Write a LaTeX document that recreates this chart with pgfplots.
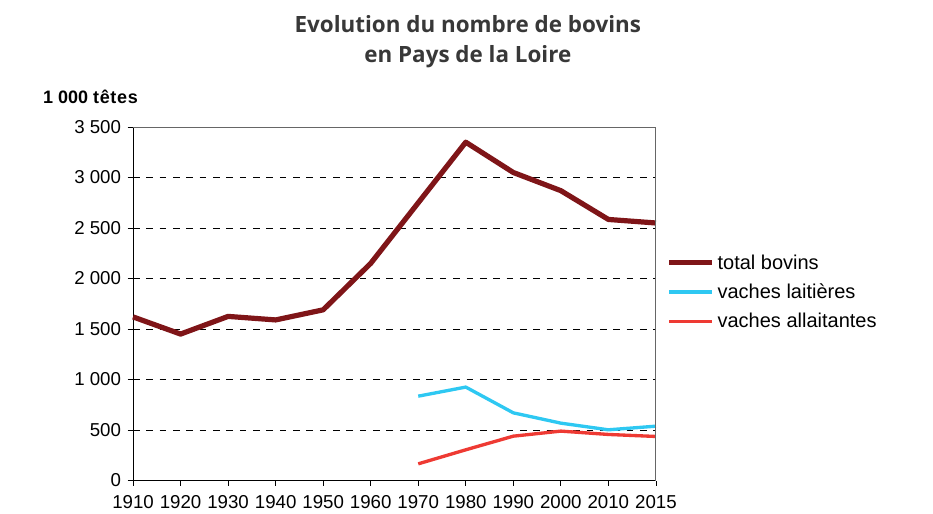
\documentclass[border=0pt]{standalone}
\usepackage{pgfplots}
\pgfplotsset{compat=1.18}
\usepackage{fontspec}
\setmainfont{Liberation Sans}
\newfontfamily\titlefont{Open Sans}

\definecolor{bordeaux}{HTML}{7F1518}
\definecolor{laitiere}{HTML}{2EC8F2}
\definecolor{allaitante}{HTML}{EE3A33}

\begin{document}
\begin{tikzpicture}
\begin{axis}[
    name=ax,
    scale only axis,
    width=392pt, height=265pt,
    xmin=0, xmax=11,
    ymin=0, ymax=3500,
    axis x line*=bottom,
    axis y line*=left,
    axis line style={black, line width=0.8pt, -},
    xtick={0,1,2,3,4,5,6,7,8,9,10,11},
    xticklabels={1910,1920,1930,1940,1950,1960,1970,1980,1990,2000,2010,2015},
    ytick={0,500,1000,1500,2000,2500,3000,3500},
    tick align=outside,
    major tick length=4pt,
    tick style={black, line width=0.6pt},
    ymajorgrids,
    grid style={black, line width=0.6pt, dash pattern=on 5pt off 5pt},
    ticklabel style={font=\fontsize{14}{16}\selectfont},
    xticklabel style={yshift=-4pt},
    yticklabel style={xshift=-1.5pt},
    /pgf/number format/assume math mode=true,
    /pgf/number format/1000 sep={\ },
    legend cell align=left,
    legend style={at={(1.012,0.655)}, anchor=north west, draw=none, fill=none,
        font=\fontsize{15}{17}\selectfont, row sep=5.5pt},
    legend image post style={xscale=1.9},
    clip=false,
]
\addplot[bordeaux, line width=3.9pt, line join=round] coordinates {
    (0,1620) (1,1450) (2,1625) (3,1590) (4,1690) (5,2150)
    (6,2750) (7,3350) (8,3050) (9,2870) (10,2585) (11,2550)
};
\addlegendentry{total bovins}
\addplot[laitiere, line width=2.5pt, line join=round] coordinates {
    (6,835) (7,925) (8,670) (9,568) (10,502) (11,538)
};
\addlegendentry{vaches laitières}
\addplot[allaitante, line width=2.5pt, line join=round] coordinates {
    (6,165) (7,304) (8,439) (9,489) (10,456) (11,436)
};
\addlegendentry{vaches allaitantes}
\draw[gray!80!black, line width=0.8pt] (rel axis cs:0,1) -- (rel axis cs:1,1) -- (rel axis cs:1,0);
\end{axis}
\node[anchor=center, align=center, font=\titlefont\bfseries\fontsize{16.8}{22.5}\selectfont, text=black!78]
    at ([xshift=251pt, yshift=63.75pt]ax.north west) {Evolution du nombre de bovins\\en Pays de la Loire};
\node[anchor=west, font=\bfseries\fontsize{13.5}{15}\selectfont]
    at ([xshift=-71pt, yshift=22.5pt]ax.north west) {1 000 t\kern0.5ptê\kern0.5ptt\kern0.5pte\kern0.5pts};
\path[use as bounding box] ([xshift=-99.75pt, yshift=-23.25pt]ax.south west)
    rectangle ([xshift=207.75pt, yshift=95.25pt]ax.north east);
\end{tikzpicture}
\end{document}
